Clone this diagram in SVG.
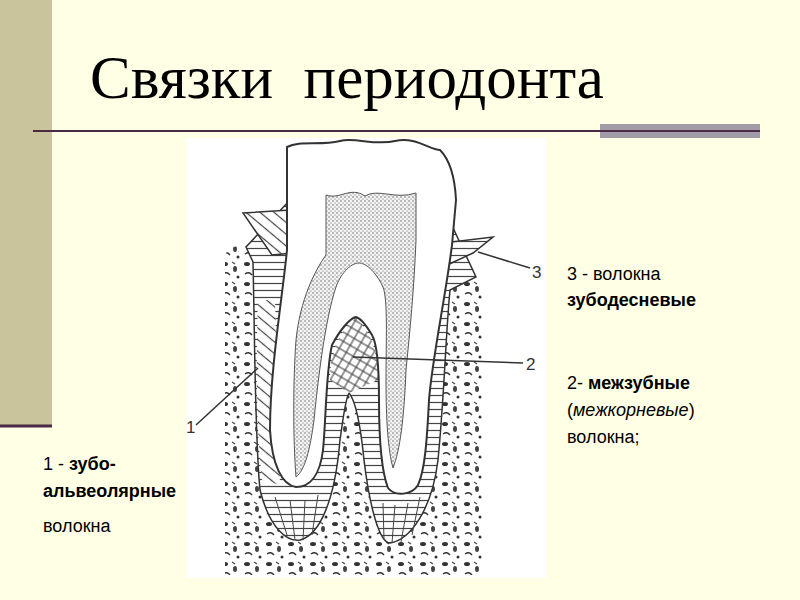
<svg xmlns="http://www.w3.org/2000/svg" width="800" height="600" viewBox="0 0 800 600">
<defs>
<style>
.t{font-family:"Liberation Sans",Arial,sans-serif;font-size:18px;fill:#000}
.b{font-weight:bold}
.n{font-family:"Liberation Sans",Arial,sans-serif;font-size:17px;fill:#333}
.ln{stroke:#333;stroke-width:1.5;fill:none}
</style>
<pattern id="hatch" width="8" height="7" patternUnits="userSpaceOnUse"><rect width="8" height="7" fill="#fff"/><line x1="0" y1="3.5" x2="8" y2="3.5" stroke="#444" stroke-width="1.2"/></pattern>
<pattern id="diag" width="9" height="9" patternUnits="userSpaceOnUse" patternTransform="rotate(40)"><rect width="9" height="9" fill="#fff"/><line x1="0" y1="4.5" x2="9" y2="4.5" stroke="#444" stroke-width="1.2"/></pattern>
<pattern id="cross" width="8" height="8" patternUnits="userSpaceOnUse" patternTransform="rotate(30)"><rect width="8" height="8" fill="#fff"/><line x1="0" y1="4" x2="8" y2="4" stroke="#444" stroke-width="1.1"/><line x1="4" y1="0" x2="4" y2="8" stroke="#444" stroke-width="1.1"/></pattern>
<pattern id="dots" width="4" height="4" patternUnits="userSpaceOnUse"><rect width="4" height="4" fill="#f2f2f2"/><circle cx="1" cy="1" r="0.7" fill="#555"/><circle cx="3" cy="3" r="0.6" fill="#666"/></pattern>
<pattern id="bone" width="22" height="20" patternUnits="userSpaceOnUse"><rect width="22" height="20" fill="#fff"/><ellipse cx="5" cy="4" rx="3" ry="2" fill="#333"/><ellipse cx="15" cy="9" rx="2" ry="3" fill="#444"/><path d="M3 14 q4 -3 7 1" stroke="#333" stroke-width="1.3" fill="none"/><circle cx="18" cy="17" r="1.5" fill="#333"/><path d="M12 2 l3 2" stroke="#444" stroke-width="1.2"/></pattern>
</defs>
<rect width="800" height="600" fill="#FFFFE6"/>
<rect x="0" y="0" width="52" height="425" fill="#C9C49B"/>
<line x1="0" y1="426" x2="52" y2="426" stroke="#4A2A45" stroke-width="3"/>
<text x="90" y="98" font-family="Liberation Serif,Times New Roman,serif" font-size="61" fill="#000" xml:space="preserve">Связки  периодонта</text>
<line x1="33" y1="131" x2="760" y2="131" stroke="#4A2A45" stroke-width="2"/>
<rect x="600" y="124" width="160" height="14" fill="#A19BA8"/>
<line x1="600" y1="131" x2="760" y2="131" stroke="#4A2A45" stroke-width="2"/>
<g id="scene">
<rect x="186" y="138" width="360" height="440" fill="#fff"/>
<path d="M225,255 C230,245 240,245 246,247 L300,250 L420,250 L476,277 C482,285 484,300 484,330 L484,575 L225,575 Z" fill="url(#bone)"/>
<path d="M246,247 L253,262 C255,350 255,440 260,490 C270,530 288,542 300,540 C320,535 335,500 340,440 C343,420 345,400 349,393 C355,400 360,420 364,460 C370,510 380,543 390,543 C410,540 432,510 438,460 C444,400 446,330 450,290 L476,277 L440,200 L290,200 Z" fill="url(#hatch)" stroke="#333" stroke-width="1.5"/>
<path d="M258,300 C256,360 256,430 262,480 L280,485 L275,300 Z" fill="url(#diag)"/>
<path d="M356,318 C340,330 330,350 330,380 L349,393 L378,380 C378,350 370,330 356,318 Z" fill="url(#cross)"/>
<polygon points="243,213 290,210 293,253 272,255" fill="url(#diag)" stroke="#333" stroke-width="1.5"/>
<polygon points="443,243 493,237 473,253 443,267" fill="url(#hatch)" stroke="#333" stroke-width="1.5"/>
<path d="M287,147 C300,140 320,146 340,141 C355,137 375,146 395,141 C415,136 430,150 440,150 C450,160 455,180 456,200 L452,245 C445,300 432,360 429,400 C427,440 425,470 418,485 C412,495 395,497 388,488 C381,470 379,440 379,400 C379,370 378,345 372,335 C366,325 360,318 356,317 C350,318 340,330 332,345 C326,370 326,420 323,450 C320,475 310,487 296,487 C282,485 272,465 270,430 C270,370 282,300 287,250 Z" fill="#fff" stroke="#333" stroke-width="2"/>
<path d="M326,195 C340,200 350,186 365,196 C378,188 395,200 416,193 L416,240 C414,290 410,330 406,370 C404,420 400,450 393,468 C388,450 386,420 386,380 C386,340 388,300 383,287 C375,270 365,263 359,263 C350,263 340,275 336,287 C325,320 318,380 314,420 C310,450 305,470 296,477 C293,440 293,380 296,340 C300,300 315,270 326,255 Z" fill="url(#dots)" stroke="#555" stroke-width="1"/>
<path d="M275,497 L287,535 M290,500 L295,540 M305,500 L303,540 M318,495 L312,535 M383,503 L384,540 M395,505 L392,543 M408,503 L401,542 M420,497 L412,535" stroke="#444" stroke-width="1"/>
</g>
<g id="connectors">
<path class="ln" d="M258,368 L196,425"/>
<path class="ln" d="M353,357 L523,363"/>
<path class="ln" d="M478,252 L530,268"/>
</g>
<text class="n" x="186" y="433">1</text>
<text class="n" x="526" y="370">2</text>
<text class="n" x="532" y="278">3</text>
<g id="labels">
<text class="t" x="567" y="280">3 - волокна</text>
<text class="t b" x="567" y="306">зубодесневые</text>
<text class="t" x="567" y="389">2- <tspan class="b">межзубные</tspan></text>
<text class="t" x="567" y="416">(<tspan font-style="italic">межкорневые</tspan>)</text>
<text class="t" x="567" y="443">волокна;</text>
<text class="t" x="43" y="470">1 - <tspan class="b">зубо-</tspan></text>
<text class="t b" x="43" y="497">альвеолярные</text>
<text class="t" x="43" y="532">волокна</text>
</g>
</svg>
